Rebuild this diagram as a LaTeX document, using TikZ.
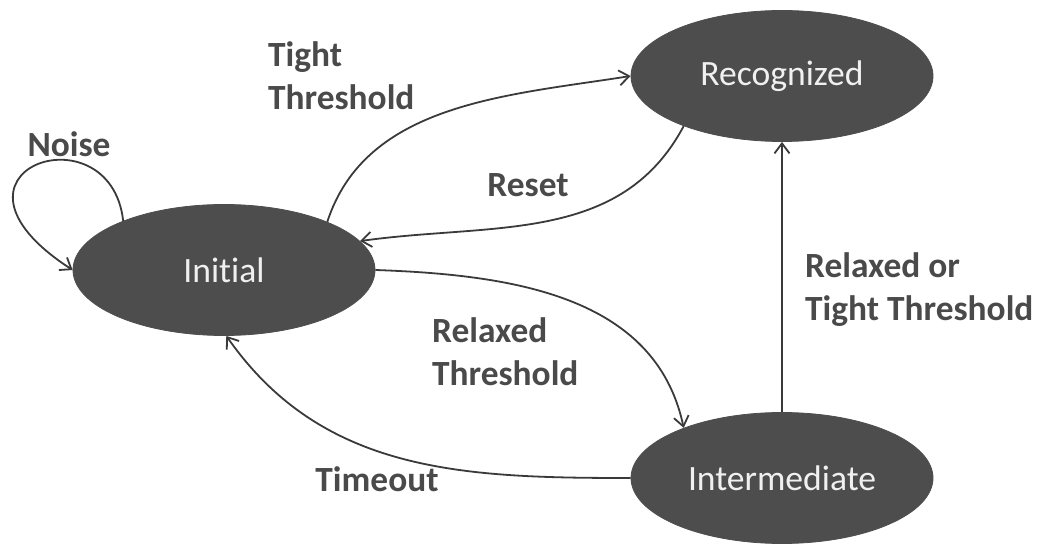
\documentclass[tikz,border=0pt]{standalone}
\usepackage{fontspec}
\setmainfont{Carlito}[Ligatures=NoCommon]
\usetikzlibrary{arrows.meta,shapes.geometric}

\definecolor{statefill}{HTML}{4D4D4D}
\definecolor{linegray}{HTML}{3A3A3A}
\definecolor{labgray}{HTML}{4A4A4A}

\begin{document}
\begin{tikzpicture}[
  x=0.5pt, y=0.5pt,
  >={Straight Barb[length=5pt,width=7.5pt]},
  state/.style={
    ellipse, draw=statefill, fill=statefill, inner sep=0pt,
    minimum width=151pt, minimum height=65.5pt,
    font=\fontsize{17.8}{22}\selectfont, text=white!94!black
  },
  arr/.style={->, line width=0.9pt, draw=linegray},
  lab/.style={font=\fontsize{17.7}{21.5}\selectfont\bfseries, text=labgray, align=left}
]
\useasboundingbox (0,0) rectangle (1038,546);

% --- etats
\node[state] (Init)  at (224,276) {Initial};
\node[state] (Recog) at (782,470) {Recognized};
\node[state] (Inter) at (782,68)  {Intermediate};

% --- boucle bruit
\draw[arr] (Init.154) .. controls (110,440) and (-80,375) .. (Init.west);
\node[lab] (noise) at (69,402) {Noise};

% --- Initial -> Recognized (seuil strict)
\draw[arr] (Init.25) to[out=72,in=189,looseness=0.95] (Recog.west);
\node[lab, anchor=west] (tight) at (261,470) {Tight\\Threshold};

% --- Recognized -> Initial (reset)
\draw[arr] (Recog.207) to[out=-118,in=8] (Init.12);
\node[lab] (reset) at (528,361) {Reset};

% --- Initial -> Intermediate (seuil relache)
\draw[arr] (Init.east) to[out=-2,in=102] (Inter.153);
\node[lab, anchor=west] (relaxed) at (425,194) {Relaxed\\Threshold};

% --- Intermediate -> Initial (timeout)
\draw[arr] (Inter.west) to[out=180,in=-55] (Init.272);
\node[lab] (timeout) at (377,67) {Timeout};

% --- Intermediate -> Recognized
\draw[arr] (Inter.north) -- (Recog.south);
\node[lab, anchor=west] (either) at (798,256) {Relaxed or\\Tight Threshold};

\end{tikzpicture}
\end{document}
